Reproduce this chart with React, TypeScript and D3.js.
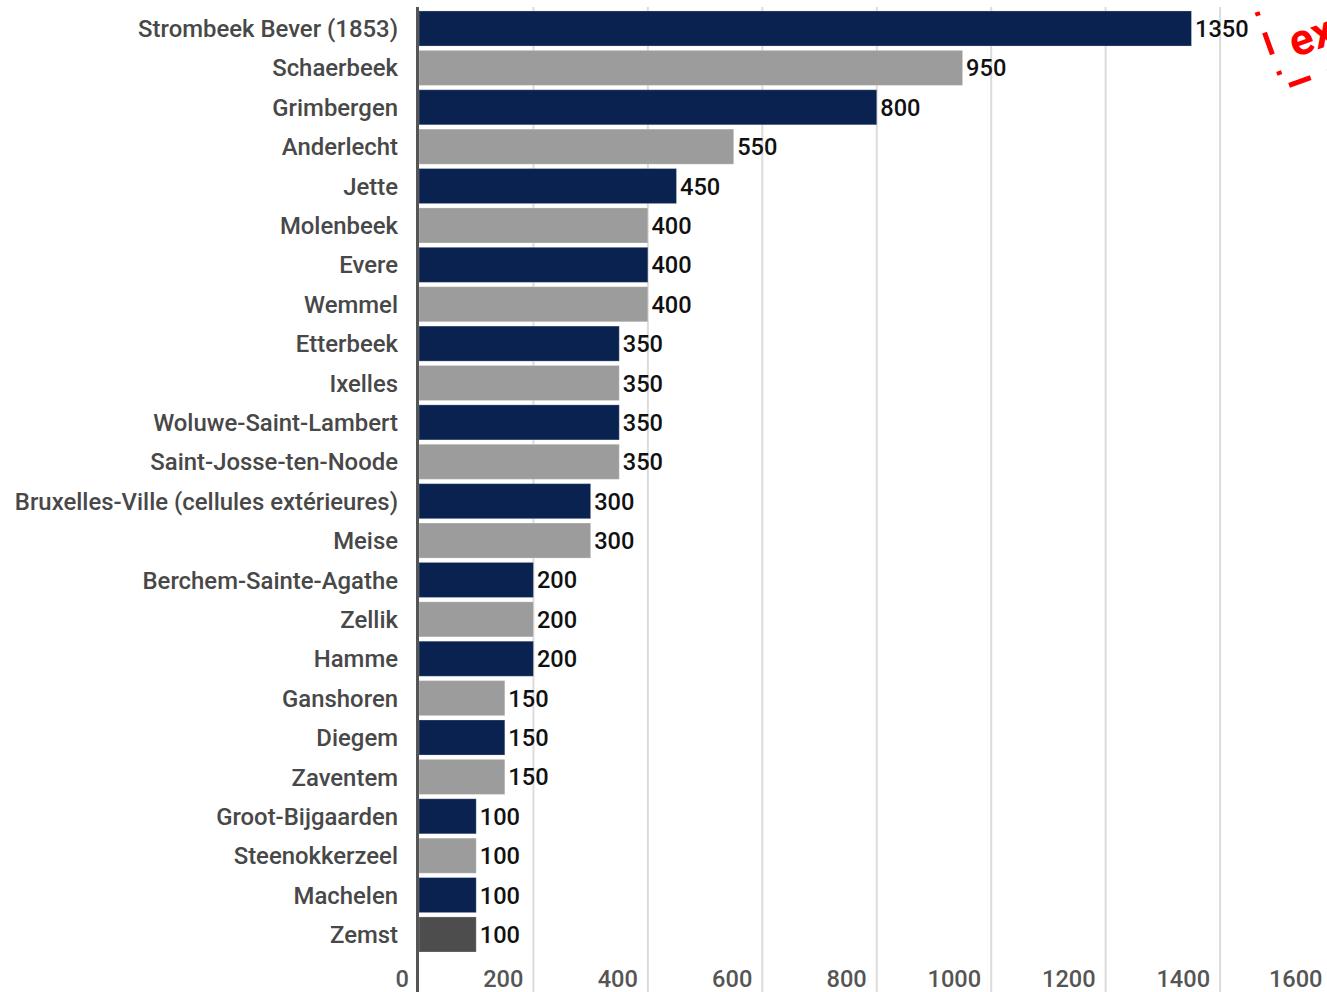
import React from "react";
import * as d3 from "d3";

const categories: string[] = [
  "Strombeek Bever (1853)",
  "Schaerbeek",
  "Grimbergen",
  "Anderlecht",
  "Jette",
  "Molenbeek",
  "Evere",
  "Wemmel",
  "Etterbeek",
  "Ixelles",
  "Woluwe-Saint-Lambert",
  "Saint-Josse-ten-Noode",
  "Bruxelles-Ville (cellules extérieures)",
  "Meise",
  "Berchem-Sainte-Agathe",
  "Zellik",
  "Hamme",
  "Ganshoren",
  "Diegem",
  "Zaventem",
  "Groot-Bijgaarden",
  "Steenokkerzeel",
  "Machelen",
  "Zemst",
];

const values: number[] = [
  1350, 950, 800, 550, 450, 400, 400, 400, 350, 350, 350, 350, 300, 300, 200,
  200, 200, 150, 150, 150, 100, 100, 100, 100,
];

const tickValues: number[] = [0, 200, 400, 600, 800, 1000, 1200, 1400, 1600];

const highlighted = "Zemst";
const stampText = "ex";

const W = 1327;
const H = 992;
const X0 = 419;
const NAVY = "#0a2250";
const GRAY = "#9c9c9c";
const DARK = "#4d4d4d";

export default function App() {
  const x = d3.scaleLinear().domain([0, 1600]).range([X0, X0 + 1600 * 0.5722]);
  const y = d3
    .scaleBand<string>()
    .domain(categories)
    .range([8.8, 8.8 + 24 * 39.39])
    .paddingInner(0.11)
    .paddingOuter(0.055);

  const font = "Roboto, 'Noto Sans', sans-serif";

  return (
    <svg
      width={W}
      height={H}
      style={{ position: "absolute", left: 0, top: 0, background: "#fff" }}
      fontFamily={font}
    >
      {tickValues.slice(1).map((t) => (
        <line
          key={"g" + t}
          x1={x(t)}
          x2={x(t)}
          y1={7}
          y2={H}
          stroke="#dcdcdc"
          strokeWidth={2}
        />
      ))}
      {categories.map((c, i) => {
        const fill = c === highlighted ? DARK : i % 2 === 0 ? NAVY : GRAY;
        return (
          <rect
            key={c}
            x={x(0)}
            y={y(c)!}
            width={x(values[i]) - x(0)}
            height={y.bandwidth()}
            fill={fill}
            stroke="#ffffff"
            strokeOpacity={0.25}
            strokeWidth={1}
          />
        );
      })}
      <line x1={X0 - 1.5} x2={X0 - 1.5} y1={7} y2={H} stroke="#555" strokeWidth={3} />
      {categories.map((c) => (
        <text
          key={"l" + c}
          x={398}
          y={y(c)! + y.bandwidth() / 2}
          dy="0.36em"
          textAnchor="end"
          fontSize={23.9}
          fontWeight={500}
          fill="#484848"
        >
          {c}
        </text>
      ))}
      {categories.map((c, i) => (
        <text
          key={"v" + c}
          x={x(values[i]) + 3.5}
          y={y(c)! + y.bandwidth() / 2}
          dy="0.36em"
          fontSize={23.6}
          fontWeight={500}
          fill="#111"
        >
          {values[i]}
        </text>
      ))}
      {tickValues.map((t) => (
        <text
          key={"t" + t}
          x={t === 1600 ? x(t) - 12 : x(t) - 10}
          y={987}
          textAnchor="end"
          fontSize={23.6}
          fontWeight={500}
          fill="#555"
        >
          {t}
        </text>
      ))}
      <g transform="translate(1257,12) rotate(-20)">
        <path
          d="M0,0 L0,80 L300,80"
          fill="none"
          stroke="#ff0000"
          strokeWidth={5}
          strokeDasharray="4 18 23 18"
        />
        <text x={20} y={56} fontSize={44} fontWeight="bold" fill="#ff0000">
          {stampText}
        </text>
      </g>
    </svg>
  );
}
